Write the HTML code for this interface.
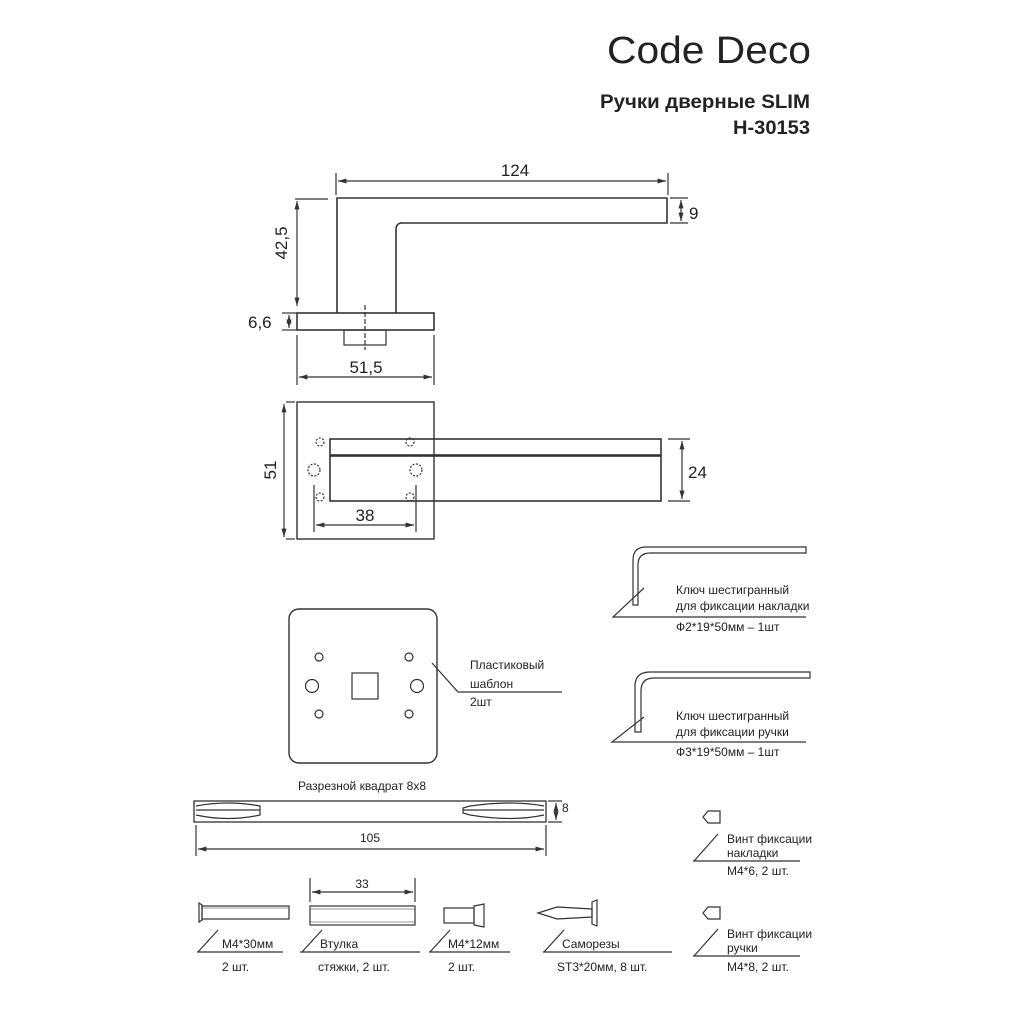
<!DOCTYPE html>
<html><head><meta charset="utf-8"><style>
html,body{margin:0;padding:0;background:#fff}
svg{display:block}
text{font-family:"Liberation Sans","Noto Sans CJK SC",sans-serif;fill:#222}
</style></head><body>
<svg width="1024" height="1024" viewBox="0 0 1024 1024" xmlns="http://www.w3.org/2000/svg">
<defs>
<marker id="a" viewBox="0 0 10 10" refX="10" refY="5" markerWidth="7" markerHeight="7" orient="auto-start-reverse"><path d="M0,2 L10,5 L0,8 z" fill="#333"/></marker>
</defs>
<rect width="1024" height="1024" fill="#fff"/>
<!-- title -->
<text x="607" y="63" font-size="38" textLength="204" lengthAdjust="spacingAndGlyphs" fill="#333">Code Deco</text>
<text x="810" y="108" font-size="19" font-weight="bold" text-anchor="end" textLength="210" lengthAdjust="spacingAndGlyphs">Ручки дверные SLIM</text>
<text x="810" y="134" font-size="19" font-weight="bold" text-anchor="end" textLength="77" lengthAdjust="spacingAndGlyphs">H-30153</text>

<g stroke="#333" stroke-width="1.2" fill="none">
<path d="M337,313 L337,198 L667,198 L667,223 L402,223 Q396,223 396,230 L396,313" stroke-width="1.6"/>
<rect x="297" y="313" width="137" height="17" stroke-width="1.6"/>
<rect x="344" y="330" width="42" height="15"/>
<line x1="365" y1="305" x2="365" y2="350" stroke-dasharray="5,2"/>
<line x1="336" y1="173" x2="336" y2="195"/>
<line x1="668" y1="173" x2="668" y2="195"/>
<line x1="338" y1="181" x2="666" y2="181" marker-start="url(#a)" marker-end="url(#a)"/>
<line x1="670" y1="198" x2="688" y2="198"/>
<line x1="670" y1="223" x2="688" y2="223"/>
<line x1="681" y1="200" x2="681" y2="221" marker-start="url(#a)" marker-end="url(#a)"/>
<line x1="295" y1="199" x2="328" y2="199"/>
<line x1="297" y1="201" x2="297" y2="306" marker-start="url(#a)" marker-end="url(#a)"/>
<line x1="282" y1="313" x2="297" y2="313"/>
<line x1="282" y1="330" x2="297" y2="330"/>
<line x1="289" y1="315" x2="289" y2="328" marker-start="url(#a)" marker-end="url(#a)"/>
<line x1="297" y1="335" x2="297" y2="385"/>
<line x1="434" y1="335" x2="434" y2="385"/>
<line x1="299" y1="377" x2="432" y2="377" marker-start="url(#a)" marker-end="url(#a)"/>

<rect x="297" y="402" width="137" height="137" stroke-width="1.4"/>
<rect x="330" y="439" width="331" height="16" stroke-width="1.6"/>
<rect x="330" y="456" width="331" height="45" stroke-width="1.6"/>
<g stroke-dasharray="2,1.5">
<circle cx="320" cy="442" r="4"/><circle cx="410" cy="442" r="4"/>
<circle cx="320" cy="497" r="4"/><circle cx="410" cy="497" r="4"/>
<circle cx="314" cy="470" r="6"/><circle cx="416" cy="470" r="6"/>
</g>
<line x1="314" y1="485" x2="314" y2="532"/>
<line x1="416" y1="485" x2="416" y2="532"/>
<line x1="316" y1="525" x2="414" y2="525" marker-start="url(#a)" marker-end="url(#a)"/>
<line x1="284" y1="404" x2="284" y2="537" marker-start="url(#a)" marker-end="url(#a)"/>
<line x1="286" y1="402" x2="295" y2="402"/>
<line x1="286" y1="539" x2="295" y2="539"/>
<line x1="668" y1="439" x2="690" y2="439"/>
<line x1="668" y1="501" x2="690" y2="501"/>
<line x1="682" y1="441" x2="682" y2="499" marker-start="url(#a)" marker-end="url(#a)"/>

<rect x="289" y="609" width="148" height="154" rx="10" stroke-width="1.4"/>
<circle cx="319" cy="657" r="4"/><circle cx="409" cy="657" r="4"/>
<circle cx="319" cy="714" r="4"/><circle cx="409" cy="714" r="4"/>
<circle cx="312" cy="686" r="6.5"/><circle cx="417" cy="686" r="6.5"/>
<rect x="352" y="673" width="26" height="26"/>
<polyline points="432,663 458,692 562,692"/>

<path d="M633,605 L633,560 Q633,547 646,547 L806,547 L806,553 L650,553 Q638,553 638,565 L638,605 Z"/>
<polyline points="644,588 613,617 806,617"/>
<path d="M635,732 L635,686 Q635,672 650,672 L810,672 L810,678 L654,678 Q641,678 641,691 L641,732 Z"/>
<polyline points="644,717 612,742 806,742"/>

<rect x="194" y="801" width="352" height="21" stroke-width="1.3"/>
<path d="M196,806 Q228,800 260,806 L260,815 Q228,822 196,815"/>
<line x1="196" y1="810" x2="260" y2="810"/>
<path d="M544,806 Q512,800 470,806 L463,808 L463,813 L470,815 Q512,822 544,815"/>
<line x1="463" y1="810" x2="544" y2="810"/>
<line x1="548" y1="801" x2="562" y2="801"/>
<line x1="548" y1="822" x2="562" y2="822"/>
<line x1="556" y1="803" x2="556" y2="820" marker-start="url(#a)" marker-end="url(#a)"/>
<line x1="196" y1="825" x2="196" y2="856"/>
<line x1="546" y1="825" x2="546" y2="856"/>
<line x1="198" y1="849" x2="544" y2="849" marker-start="url(#a)" marker-end="url(#a)"/>

<path d="M199,903 L202,905 L202,920 L199,922 Z"/>
<rect x="202" y="906" width="87" height="13"/>
<line x1="202" y1="908" x2="289" y2="908" stroke-width="0.6"/>
<rect x="310" y="906" width="105" height="19"/>
<line x1="310" y1="909" x2="415" y2="909" stroke-width="0.6"/>
<line x1="310" y1="922" x2="415" y2="922" stroke-width="0.6"/>
<line x1="310" y1="878" x2="310" y2="902"/>
<line x1="415" y1="878" x2="415" y2="902"/>
<line x1="312" y1="892" x2="413" y2="892" marker-start="url(#a)" marker-end="url(#a)"/>
<rect x="444" y="908" width="30" height="15"/>
<path d="M474,906 L484,904 L484,927 L474,925 Z"/>
<path d="M538,913 L557,907 L592,909 L592,917 L557,919 Z"/>
<path d="M592,902 L597,900 L597,926 L592,924 Z"/>
<path d="M703,817 L708,811 L720,811 L720,823 L708,823 Z"/>
<path d="M703,913 L708,907 L720,907 L720,919 L708,919 Z"/>
<polyline points="198,952 218,930"/><line x1="197" y1="952" x2="283" y2="952"/>
<polyline points="302,952 322,930"/><line x1="300" y1="952" x2="420" y2="952"/>
<polyline points="430,952 450,930"/><line x1="429" y1="952" x2="510" y2="952"/>
<polyline points="544,952 564,930"/><line x1="543" y1="952" x2="672" y2="952"/>
<polyline points="694,861 718,834"/><line x1="693" y1="861" x2="800" y2="861"/>
<polyline points="694,956 718,929"/><line x1="693" y1="956" x2="800" y2="956"/>
</g>

<text x="515" y="176" font-size="17" text-anchor="middle">124</text>
<text x="689" y="219" font-size="17">9</text>
<text x="295" y="251" font-size="17" text-anchor="middle" transform="rotate(-90 287 251)">42,5</text>
<text x="248" y="328" font-size="17">6,6</text>
<text x="366" y="373" font-size="17" text-anchor="middle">51,5</text>
<text x="276" y="470" font-size="17" text-anchor="middle" transform="rotate(-90 276 470)">51</text>
<text x="365" y="521" font-size="17" text-anchor="middle">38</text>
<text x="688" y="478" font-size="17">24</text>

<g font-size="12">
<text x="470" y="669">Пластиковый</text>
<text x="470" y="688">шаблон</text>
<text x="470" y="706">2шт</text>
<text x="676" y="594">Ключ шестигранный</text>
<text x="676" y="610">для фиксации накладки</text>
<text x="676" y="631">Ф2*19*50мм – 1шт</text>
<text x="676" y="720">Ключ шестигранный</text>
<text x="676" y="736">для фиксации ручки</text>
<text x="676" y="756">Ф3*19*50мм – 1шт</text>
<text x="298" y="790">Разрезной квадрат 8х8</text>
<text x="562" y="812">8</text>
<text x="370" y="842" text-anchor="middle">105</text>
<text x="362" y="888" text-anchor="middle">33</text>
<text x="222" y="948">М4*30мм</text>
<text x="222" y="971">2 шт.</text>
<text x="320" y="948">Втулка</text>
<text x="318" y="971">стяжки, 2 шт.</text>
<text x="448" y="948">М4*12мм</text>
<text x="448" y="971">2 шт.</text>
<text x="562" y="948">Саморезы</text>
<text x="557" y="971">ST3*20мм, 8 шт.</text>
<text x="727" y="843">Винт фиксации</text>
<text x="727" y="857">накладки</text>
<text x="727" y="875">М4*6, 2 шт.</text>
<text x="727" y="938">Винт фиксации</text>
<text x="727" y="952">ручки</text>
<text x="727" y="971">М4*8, 2 шт.</text>
</g>
</svg>
</body></html>
